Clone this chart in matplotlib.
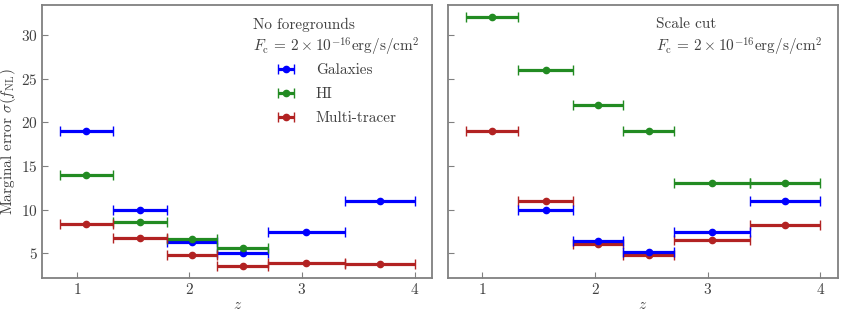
import numpy as np
import matplotlib
matplotlib.use("Agg")
import matplotlib.pyplot as plt

plt.rcParams["font.family"] = "serif"
plt.rcParams["font.serif"] = ["cmr10"]
plt.rcParams["mathtext.fontset"] = "cm"
plt.rcParams["axes.formatter.use_mathtext"] = True

# bins in redshift
z_edges = np.array([0.85, 1.32, 1.80, 2.25, 2.70, 3.38, 4.00])
z_mid = 0.5 * (z_edges[1:] + z_edges[:-1])
z_half = 0.5 * (z_edges[1:] - z_edges[:-1])

# no foregrounds
gal_nofg = [19.0, 10.0, 6.35, 5.05, 7.4, 11.0]
hi_nofg = [14.0, 8.6, 6.6, 5.6]
mt_nofg = [8.4, 6.7, 4.8, 3.6, 3.9, 3.8]

# scale cut
gal_cut = [10.0, 6.4, 5.1, 7.4, 11.0]
hi_cut = [32.0, 26.0, 22.0, 19.0, 13.0, 13.0]
mt_cut = [19.0, 11.0, 6.05, 4.8, 6.5, 8.2]

col_gal = "#0000ff"
col_hi = "#228b22"
col_mt = "#b22222"
txt_col = "#404040"
spine_col = "#808080"

plt.rcParams["text.color"] = txt_col
plt.rcParams["axes.labelcolor"] = txt_col
plt.rcParams["xtick.color"] = txt_col
plt.rcParams["ytick.color"] = txt_col

fs = 11

fig, (ax1, ax2) = plt.subplots(1, 2, figsize=(8.43, 3.18), dpi=100, sharey=True)
fig.subplots_adjust(left=0.05, right=0.994, top=0.984, bottom=0.126, wspace=0.04)

style = dict(fmt="o", markersize=4.5, elinewidth=2.3, capsize=3.6, capthick=1.0, lw=0)


def draw(ax, vals, sl, color, label=None):
    ax.errorbar(z_mid[sl], vals, xerr=z_half[sl], color=color, label=label, **style)


draw(ax1, gal_nofg, slice(0, 6), col_gal, "Galaxies")
draw(ax1, hi_nofg, slice(0, 4), col_hi, "HI")
draw(ax1, mt_nofg, slice(0, 6), col_mt, "Multi-tracer")

draw(ax2, hi_cut, slice(0, 6), col_hi)
draw(ax2, mt_cut, slice(0, 6), col_mt)
draw(ax2, gal_cut, slice(1, 6), col_gal)

title = "$F_{\\rm c}\\, =\\, 2\\times10^{-16}{\\rm erg/s/cm}^2$"
ax1.text(0.54, 0.955, "No foregrounds\n" + title, transform=ax1.transAxes,
         fontsize=fs, va="top", ha="left", linespacing=1.3)
ax2.text(0.533, 0.955, "Scale cut\n" + title, transform=ax2.transAxes,
         fontsize=fs, va="top", ha="left", linespacing=1.3)

leg = ax1.legend(loc="upper left", bbox_to_anchor=(0.58, 0.813), frameon=False,
                 fontsize=fs, handlelength=1.3, handletextpad=1.3, labelspacing=0.66,
                 borderpad=0)

ax1.set_ylabel("Marginal error $\\sigma(f_{\\rm NL})$", fontsize=fs, labelpad=2)
for ax in (ax1, ax2):
    ax.set_xlabel("$z$", fontsize=fs, labelpad=1)
    ax.set_xticks([1, 2, 3, 4])
    ax.set_yticks([5, 10, 15, 20, 25, 30])
    ax.tick_params(direction="in", length=4, labelsize=fs, color=spine_col, pad=3)
    for s in ax.spines.values():
        s.set_color(spine_col)
        s.set_linewidth(1.3)

fig.savefig("out.png", dpi=100)
